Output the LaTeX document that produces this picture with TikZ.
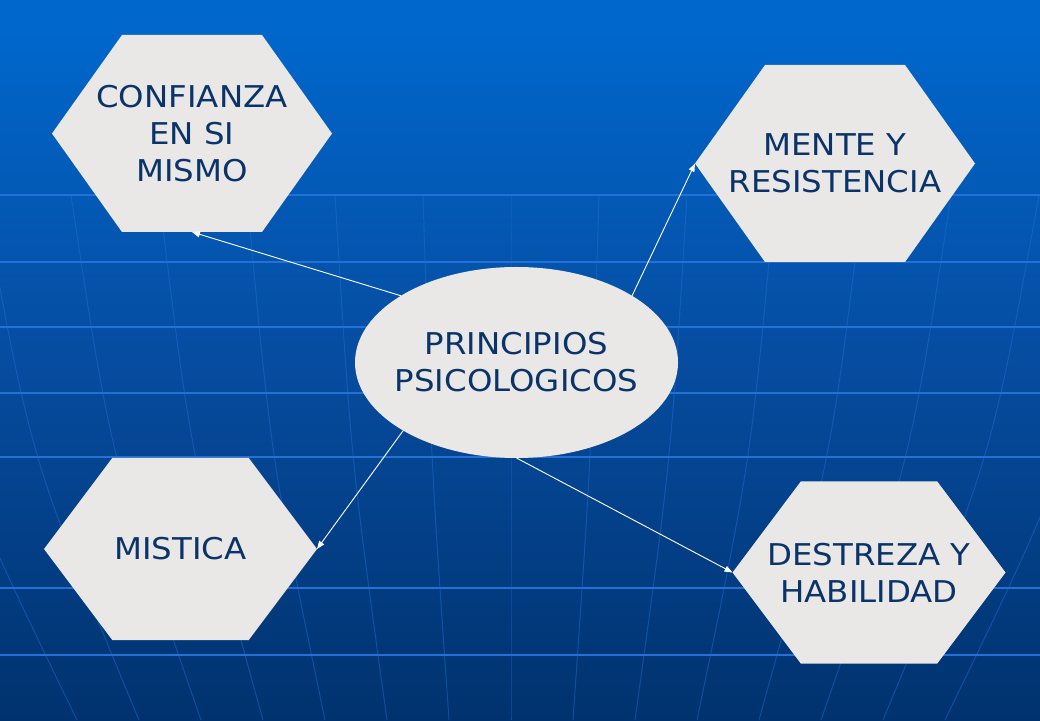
\documentclass[tikz,border=0pt]{standalone}
\usepackage{fontspec}
\setmainfont{DejaVu Sans}[FakeStretch=1.08]
\usetikzlibrary{positioning,shapes.geometric,arrows.meta,calc,backgrounds}

\definecolor{fondoarriba}{RGB}{0,103,204}
\definecolor{fondomedio}{RGB}{6,76,160}
\definecolor{fondobajo}{RGB}{0,50,110}
\definecolor{fondoabajo}{RGB}{0,32,68}
\definecolor{rejilla}{RGB}{35,112,215}
\definecolor{relleno}{RGB}{234,232,230}
\definecolor{texto}{RGB}{10,52,105}

\pgfdeclareverticalshading{fondo}{100bp}{color(0bp)=(fondoabajo); color(25bp)=(fondobajo); color(50bp)=(fondomedio); color(73bp)=(fondoarriba); color(100bp)=(fondoarriba)}

% hexagono alrededor de un nodo rectangular
\newcommand\hexagono[1]{(#1.west) -- ($(#1.north west)!0.25!(#1.north east)$) -- ($(#1.north west)!0.75!(#1.north east)$) -- (#1.east) -- ($(#1.south west)!0.75!(#1.south east)$) -- ($(#1.south west)!0.25!(#1.south east)$) -- cycle}

\tikzset{
    hexa/.style={rectangle, minimum width=280pt, minimum height=197pt, inner sep=0pt, outer sep=0pt, align=center, text=texto, font=\fontsize{30}{37}\selectfont},
    hexb/.style={minimum width=273pt, minimum height=182pt},
    elipse/.style={ellipse, fill=relleno, minimum width=323pt, minimum height=191pt, inner xsep=-15pt, inner ysep=0pt, outer sep=0pt, align=center, text=texto, font=\fontsize{30}{37}\selectfont},
    flecha/.style={-{Triangle[length=8pt,width=6pt]}, white, line width=0.9pt},
    linea/.style={rejilla, line width=2pt},
    meridiano/.style={rejilla, line width=1pt, opacity=0.45}
}

\begin{document}
\begin{tikzpicture}[x=1pt, y=1pt]

    \useasboundingbox (0,0) rectangle (1040,720);

    % Centro
    \node [elipse] (centro) at (516.5,357.5) {PRINCIPIOS\\PSICOLOGICOS};

    % Hexagonos
    \node [hexa, on grid, above left=229pt and 324.5pt of centro] (confianza) {CONFIANZA\\EN SI\\MISMO};
    \node [hexa, on grid, above right=199pt and 318.5pt of centro] (mente) {MENTE Y\\RESISTENCIA};
    \node [hexa, hexb, on grid, below left=186.5pt and 336pt of centro] (mistica) {MISTICA};
    \node [hexa, hexb, on grid, below right=210pt and 352.5pt of centro] (destreza) {DESTREZA Y\\HABILIDAD};

    % Fondo, rejilla y relleno de los hexagonos
    \begin{scope}[on background layer]
        \shade[shading=fondo] (0,0) rectangle (1040,720);
        \foreach \y in {525,458,393,327,263,132,65}
            \draw[linea] (0,\y) -- (1040,\y);
        \foreach \k in {-7,...,7}
            \draw[meridiano] (511+88*\k,525) .. controls (511+80*\k,260) .. (511+62*\k,0);
        \fill[relleno] \hexagono{confianza};
        \fill[relleno] \hexagono{mente};
        \fill[relleno] \hexagono{mistica};
        \fill[relleno] \hexagono{destreza};
    \end{scope}

    % Flechas desde el centro
    \draw[flecha] (centro.150) -- (confianza.south);
    \draw[flecha] (centro.30) -- (mente.west);
    \draw[flecha] (centro.211) -- (mistica.east);
    \draw[flecha] (centro.south) -- (destreza.west);

\end{tikzpicture}
\end{document}
